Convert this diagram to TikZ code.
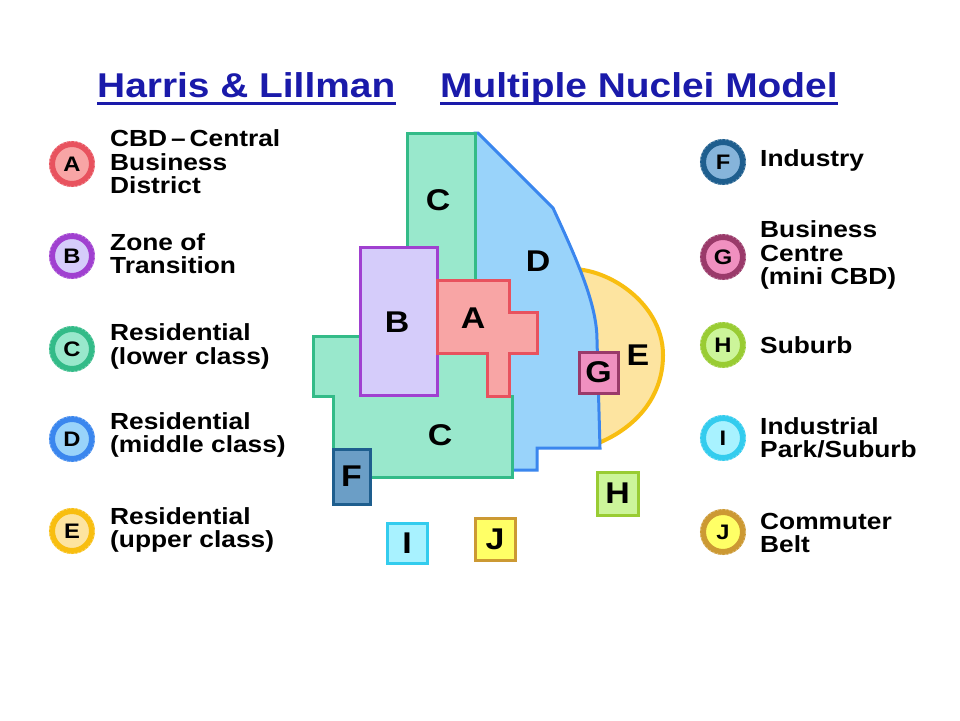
\documentclass[tikz,border=0pt]{standalone}
\usepackage{fontspec}
\setmainfont[FakeStretch=1.13]{Liberation Sans}
\definecolor{Afill}{HTML}{F8A5A5}\definecolor{Adraw}{HTML}{E8525E}
\definecolor{Bfill}{HTML}{D5CCFA}\definecolor{Bdraw}{HTML}{A040D0}
\definecolor{Cfill}{HTML}{99E8CC}\definecolor{Cdraw}{HTML}{33BB88}
\definecolor{Dfill}{HTML}{99D3FA}\definecolor{Ddraw}{HTML}{3A86EE}
\definecolor{Efill}{HTML}{FDE4A0}\definecolor{Edraw}{HTML}{F8BE10}
\definecolor{Ffill}{HTML}{6B9EC6}\definecolor{Fdraw}{HTML}{1E5E8E}
\definecolor{Gfill}{HTML}{F090C0}\definecolor{Gdraw}{HTML}{9A3A6A}
\definecolor{Hfill}{HTML}{CCF59A}\definecolor{Hdraw}{HTML}{99CC33}
\definecolor{Ifill}{HTML}{A8F2FF}\definecolor{Idraw}{HTML}{33CCEE}
\definecolor{Jfill}{HTML}{FFFF66}\definecolor{Jdraw}{HTML}{CC9933}
\definecolor{FlegFill}{HTML}{86B4DA}
\definecolor{titleblue}{HTML}{1A1AAA}
\begin{document}
\begin{tikzpicture}[x=1pt,y=-1pt,
  zone/.style={line width=3pt, line join=miter},
  lbl/.style={inner sep=0, font=\bfseries\fontsize{30}{30}\selectfont},
  boxz/.style n args={4}{draw=#1, fill=#2, line width=3pt, minimum width=#3, minimum height=#4, inner sep=0, font=\bfseries\fontsize{30}{30}\selectfont},
  legc/.style n args={2}{circle, draw=#1, fill=#2, line width=6pt, minimum size=40pt, inner sep=0, font=\bfseries\fontsize{21}{21}\selectfont},
  scallop/.style={draw=white, opacity=0.35, line width=1.2pt, dash pattern=on 1.6pt off 2.4pt},
  legt/.style={anchor=west, align=left, inner sep=0, font=\bfseries\fontsize{23.3}{23.5}\selectfont},
  ttl/.style={anchor=base west, inner sep=0, text=titleblue, font=\bfseries\fontsize{34.4}{36}\selectfont},
  uline/.style={draw=titleblue, line width=3pt}]
\useasboundingbox[fill=white] (0,0) rectangle (960,720);

% title
\node[ttl] (t1) at (97,97.3) {Harris \& Lillman};
\node[ttl] (t2) at (440,97.3) {Multiple Nuclei Model};
\draw[uline] ([yshift=-6pt]t1.base west) -- ([yshift=-6pt]t1.base east);
\draw[uline] ([yshift=-6pt]t2.base west) -- ([yshift=-6pt]t2.base east);

% zone E (upper class)
\draw[zone, draw=Edraw, fill=Efill, line width=4pt]
  (560,270) .. controls (600,262) and (663,300) .. (663,355)
  .. controls (663,400) and (632,430) .. (596,444) -- (560,444) -- cycle;
% zone D (middle class)
\draw[zone, draw=Ddraw, fill=Dfill]
  (475,133) -- (478,133) -- (553,208)
  .. controls (578,262) and (597,305) .. (597,340)
  -- (600,448) -- (537,448) -- (537,470) -- (475,470) -- cycle;
% zone C (lower class)
\draw[zone, draw=Cdraw, fill=Cfill]
  (407,133) -- (475,133) -- (475,280) -- (487,280) -- (487,396) -- (512,396)
  -- (512,477) -- (333,477) -- (333,396) -- (313,396) -- (313,336)
  -- (360,336) -- (360,247) -- (407,247) -- cycle;
% zone B (transition)
\draw[zone, draw=Bdraw, fill=Bfill] (360,247) rectangle (437,395);
% zone A (CBD)
\draw[zone, draw=Adraw, fill=Afill]
  (437,280) -- (509,280) -- (509,312) -- (537,312) -- (537,353) -- (509,353)
  -- (509,396) -- (487,396) -- (487,353) -- (437,353) -- cycle;

% map labels
\node[lbl] (mC1) at (438,200) {C};
\node[lbl] (mD) at (538,261) {D};
\node[lbl] (mB) at (397,322) {B};
\node[lbl] (mA) at (473,318) {A};
\node[lbl] (mE) at (638,355) {E};
\node[lbl] (mC2) at (440,435) {C};

% small nuclei boxes
\node[boxz={Gdraw}{Gfill}{39pt}{41pt}] (mG) at (598.5,372.5) {G};
\node[boxz={Fdraw}{Ffill}{37pt}{55pt}] (mF) at (351.5,476.5) {F};
\node[boxz={Hdraw}{Hfill}{41pt}{43pt}] (mH) at (617.5,493.5) {H};
\node[boxz={Idraw}{Ifill}{40pt}{40pt}] (mI) at (407,543) {I};
\node[boxz={Jdraw}{Jfill}{40pt}{42pt}] (mJ) at (495,539) {J};

% left legend
\node[legc={Adraw}{Afill}] (kA) at (72,164) {A};
\node[legc={Bdraw}{Bfill}] (kB) at (72,256) {B};
\node[legc={Cdraw}{Cfill}] (kC) at (72,349) {C};
\node[legc={Ddraw}{Dfill}] (kD) at (72,439) {D};
\node[legc={Edraw}{Efill}] (kE) at (72,531) {E};
\node[legt] (lA) at (110,162) {CBD\,–\,Central\\Business\\District};
\node[legt] (lB) at (110,253.5) {Zone of\\Transition};
\node[legt] (lC) at (110,346.5) {Residential\\(lower class)};
\node[legt] (lD) at (110,435) {Residential\\(middle class)};
\node[legt] (lE) at (110,530) {Residential\\(upper class)};

% right legend
\node[legc={Fdraw}{FlegFill}] (kF) at (723,162) {F};
\node[legc={Gdraw}{Gfill}] (kG) at (723,257) {G};
\node[legc={Hdraw}{Hfill}] (kH) at (723,345) {H};
\node[legc={Idraw}{Ifill}] (kI) at (723,438) {I};
\node[legc={Jdraw}{Jfill}] (kJ) at (723,532) {J};
\node[legt] (lF) at (760,160) {Industry};
\node[legt] (lG) at (760,255) {Business\\Centre\\(mini CBD)};
\node[legt] (lH) at (760,345) {Suburb};
\node[legt] (lI) at (760,438) {Industrial\\Park/Suburb};
\node[legt] (lJ) at (760,533) {Commuter\\Belt};

% scalloped edges of the legend rings
\foreach \n in {kA,kB,kC,kD,kE,kF,kG,kH,kI,kJ}{
  \draw[scallop] (\n.center) circle[radius=22.6pt];
}
\end{tikzpicture}
\end{document}
